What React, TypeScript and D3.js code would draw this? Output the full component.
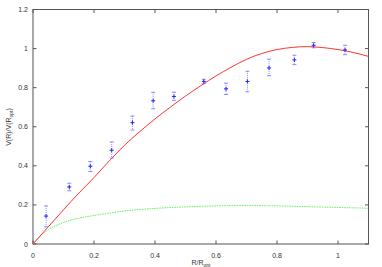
import React from "react";
import * as d3 from "d3";

const obsR = [0.043, 0.119, 0.188, 0.258, 0.326, 0.394, 0.462, 0.56, 0.633, 0.703, 0.774, 0.857, 0.92, 1.023];
const obsV = [0.143, 0.292, 0.398, 0.48, 0.621, 0.733, 0.755, 0.832, 0.794, 0.832, 0.901, 0.942, 1.017, 0.993];
const obsHi = [0.195, 0.311, 0.422, 0.522, 0.655, 0.776, 0.777, 0.843, 0.823, 0.884, 0.946, 0.966, 1.031, 1.017];
const obsLo = [0.088, 0.272, 0.371, 0.44, 0.583, 0.692, 0.735, 0.82, 0.765, 0.779, 0.861, 0.918, 1.004, 0.969];

const modelR = [0, 0.05, 0.1, 0.15, 0.2, 0.25, 0.3, 0.35, 0.4, 0.45, 0.5, 0.55, 0.6, 0.65, 0.7, 0.75, 0.8, 0.85, 0.9, 0.95, 1.0, 1.05, 1.1];
const totalV = [0, 0.088, 0.175, 0.26, 0.34, 0.425, 0.505, 0.575, 0.64, 0.7, 0.757, 0.81, 0.86, 0.905, 0.945, 0.975, 0.995, 1.006, 1.01, 1.005, 0.995, 0.98, 0.96];

const diskR = [0, 0.02, 0.05, 0.1, 0.15, 0.2, 0.25, 0.3, 0.4, 0.5, 0.6, 0.7, 0.8, 0.9, 1.0, 1.1];
const diskV = [0, 0.035, 0.073, 0.11, 0.132, 0.146, 0.158, 0.169, 0.182, 0.19, 0.195, 0.197, 0.195, 0.191, 0.187, 0.183];

const xTicks = [0, 0.2, 0.4, 0.6, 0.8, 1];
const xTickLabels = ["0", "0.2", "0.4", "0.6", "0.8", "1"];
const yTicks = [0, 0.2, 0.4, 0.6, 0.8, 1, 1.2];
const yTickLabels = ["0", "0.2", "0.4", "0.6", "0.8", "1", "1.2"];

export default function App() {
  const W = 382, H = 267;
  const L = 33, R = 368.5, T = 9.5, B = 244;
  const x = d3.scaleLinear().domain([0, 1.1]).range([L, R]);
  const y = d3.scaleLinear().domain([0, 1.2]).range([B, T]);
  const font = "'Liberation Sans', Arial, sans-serif";
  const axisColor = "#555";
  const textColor = "#333";
  const tl = 3.5;

  const line = d3.line<number>().curve(d3.curveMonotoneX);
  const redPath = line.x((_, i) => x(modelR[i])).y((d) => y(d))(totalV) || "";
  const line2 = d3.line<number>().curve(d3.curveMonotoneX);
  const greenPath = line2.x((_, i) => x(diskR[i])).y((d) => y(d))(diskV) || "";

  return (
    <svg width={W} height={H} style={{ position: "absolute", left: 0, top: 0, background: "#fff" }}>
      <rect x={L} y={T} width={R - L} height={B - T} fill="none" stroke={axisColor} strokeWidth={1} />
      {xTicks.map((t, i) => (
        <g key={"xt" + i}>
          <line x1={x(t)} x2={x(t)} y1={B} y2={B - tl} stroke={axisColor} />
          <line x1={x(t)} x2={x(t)} y1={T} y2={T + tl} stroke={axisColor} />
          <text x={x(t)} y={258} fontSize={7} fontFamily={font} fill={textColor} textAnchor="middle">
            {xTickLabels[i]}
          </text>
        </g>
      ))}
      {yTicks.map((t, i) => (
        <g key={"yt" + i}>
          <line x1={L} x2={L + tl} y1={y(t)} y2={y(t)} stroke={axisColor} />
          <line x1={R} x2={R - tl} y1={y(t)} y2={y(t)} stroke={axisColor} />
          <text x={28} y={y(t) + 2.5} fontSize={7} fontFamily={font} fill={textColor} textAnchor="end">
            {yTickLabels[i]}
          </text>
        </g>
      ))}
      <path d={greenPath} fill="none" stroke="#33ee33" strokeWidth={0.8} strokeDasharray="1.5,1" />
      <path d={redPath} fill="none" stroke="#ff3333" strokeWidth={1} />
      {obsR.map((r, i) => {
        const cx = x(r);
        return (
          <g key={"p" + i}>
            <line x1={cx} x2={cx} y1={y(obsHi[i])} y2={y(obsLo[i])} stroke="#7070ff" strokeWidth={0.8} strokeDasharray="1,1" />
            <line x1={cx - 2} x2={cx + 2} y1={y(obsHi[i])} y2={y(obsHi[i])} stroke="#7070ff" strokeWidth={0.8} />
            <line x1={cx - 2} x2={cx + 2} y1={y(obsLo[i])} y2={y(obsLo[i])} stroke="#7070ff" strokeWidth={0.8} />
            <line x1={cx - 2} x2={cx + 2} y1={y(obsV[i])} y2={y(obsV[i])} stroke="#2020ff" strokeWidth={1} />
            <line x1={cx} x2={cx} y1={y(obsV[i]) - 2} y2={y(obsV[i]) + 2} stroke="#2020ff" strokeWidth={1} />
          </g>
        );
      })}
      <text x={201} y={265} fontSize={7} fontFamily={font} fill={textColor} textAnchor="middle">
        R/R<tspan fontSize={5} dy={1.5}>opt</tspan>
      </text>
      <text transform="translate(11,127) rotate(-90)" fontSize={7} fontFamily={font} fill={textColor} textAnchor="middle">
        V(R)/V(R<tspan fontSize={5} dy={1.5}>opt</tspan><tspan dy={-1.5}>)</tspan>
      </text>
    </svg>
  );
}
